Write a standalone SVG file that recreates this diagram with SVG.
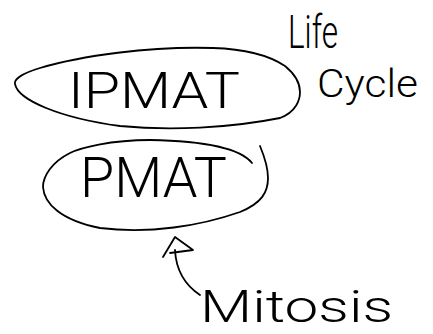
<svg xmlns="http://www.w3.org/2000/svg" width="433" height="334" viewBox="0 0 433 334">
  <style>
    .ink { fill: none; stroke: #000; stroke-width: 1.8; stroke-linecap: round; stroke-linejoin: round; }
    .hand { font-family: Roboto, "Liberation Sans", sans-serif; font-weight: 300; fill: #000; }
  </style>
  <rect width="433" height="334" fill="#fff"/>
  <g id="node-ipmat">
    <path class="ink" d="M 213,48 C 150,46 80,56 40,68 C 20,74 14,80 15,84 C 18,100 60,118 120,126 C 170,131 230,128 280,118 C 296,112 300,100 300,92 C 300,84 296,75 285,66 C 270,56 245,49 213,48"/>
    <text class="hand" x="68" y="108" font-size="50" textLength="172" lengthAdjust="spacingAndGlyphs">IPMAT</text>
  </g>
  <g id="node-pmat">
    <path class="ink" d="M 252,163 C 240,148 205,141 150,140 C 110,140 80,148 70,153 C 52,162 43,176 43,187 C 44,203 60,220 100,228 C 150,234 200,226 240,212 C 262,203 268,192 268,178 C 268,168 265,158 260,146"/>
    <text class="hand" x="80" y="197" font-size="56" textLength="147" lengthAdjust="spacingAndGlyphs">PMAT</text>
  </g>
  <g id="label-lifecycle">
    <text class="hand" x="288" y="48" font-size="46" textLength="50" lengthAdjust="spacingAndGlyphs">Life</text>
    <text class="hand" x="317" y="97" font-size="38" textLength="101" lengthAdjust="spacingAndGlyphs">Cycle</text>
  </g>
  <g id="label-mitosis">
    <text class="hand" x="200" y="322" font-size="44" textLength="193" lengthAdjust="spacingAndGlyphs">Mitosis</text>
  </g>
  <g id="connectors">
    <path class="ink" d="M 200,295 C 185,285 176,270 175,250"/>
    <path class="ink" d="M 163,257 L 175,237 L 193,250 L 170,253"/>
  </g>
</svg>
